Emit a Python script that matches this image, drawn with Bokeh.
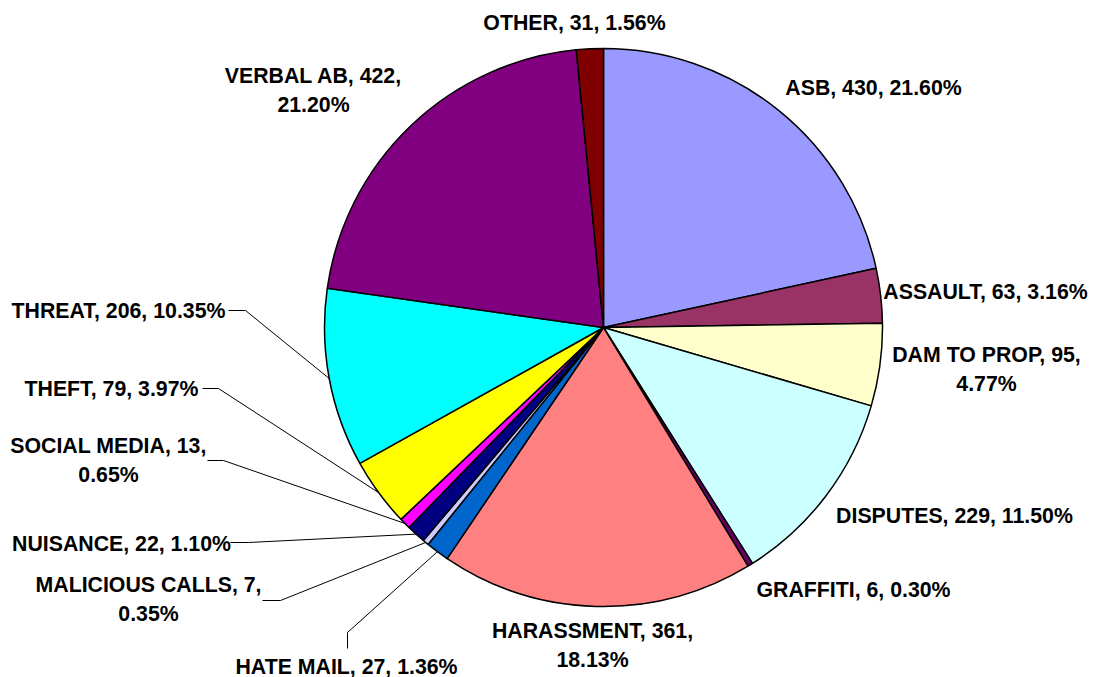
import numpy as np
from bokeh.plotting import figure
from bokeh.models import Range1d, ColumnDataSource
from bokeh.core.properties import value
from bokeh.embed import file_html
from bokeh.resources import INLINE

# ---- data ----
categories = ["ASB", "ASSAULT", "DAM TO PROP", "DISPUTES", "GRAFFITI", "HARASSMENT",
              "HATE MAIL", "MALICIOUS CALLS", "NUISANCE", "SOCIAL MEDIA", "THEFT",
              "THREAT", "VERBAL AB", "OTHER"]
counts = [430, 63, 95, 229, 6, 361, 27, 7, 22, 13, 79, 206, 422, 31]
colors = ["#9999FF", "#993366", "#FFFFCC", "#CCFFFF", "#660066", "#FF8080",
          "#0066CC", "#CCCCFF", "#000080", "#FF00FF", "#FFFF00", "#00FFFF",
          "#800080", "#800000"]

# ---- layout (screen px) ----
CX, CY, R = 603, 327, 279
label_xy = [(873, 87), (985, 291), (986, 369), (954, 515), (853, 589), (592, 645),
            (346, 666), (148, 599), (121, 543), (108, 460), (111, 388), (118, 310),
            (313, 90), (574, 22)]
label_break = [False, False, True, False, False, True, False, True, False, True,
               False, False, True, False]
# leader lines: slice index -> (label-side start, elbow)
leaders = {6: ((347, 648), (347, 632)),
           7: ((262, 600), (280, 600)),
           8: ((230, 542), (248, 542)),
           9: ((207, 460), (223, 460)),
           10: ((202, 388), (218, 388)),
           11: ((228, 310), (245, 310))}

W, H = 1098, 677
p = figure(width=W, height=H, output_backend="svg", toolbar_location=None,
           x_range=Range1d(0, W), y_range=Range1d(-H, 0),
           min_border=0)
p.axis.visible = False
p.grid.visible = False
p.outline_line_color = None
p.background_fill_color = "white"

counts_arr = np.array(counts, dtype=float)
total = counts_arr.sum()
frac = counts_arr / total
cum_end = np.cumsum(frac)
cum_start = cum_end - frac
start_ang = np.pi / 2 - 2 * np.pi * cum_start
end_ang = np.pi / 2 - 2 * np.pi * cum_end

src = ColumnDataSource(dict(start=start_ang, end=end_ang, color=colors))
p.wedge(x=CX, y=-CY, radius=R, start_angle="start", end_angle="end",
        direction="clock", fill_color="color", line_color="black", line_width=1.5,
        source=src)

# labels
texts, lx, ly = [], [], []
for i, (c, n) in enumerate(zip(categories, counts)):
    pct = f"{100 * n / total:.2f}%"
    sep = "\n" if label_break[i] else " "
    texts.append(f"{c}, {n},{sep}{pct}")
    lx.append(label_xy[i][0])
    ly.append(-label_xy[i][1])

p.text(x=lx, y=ly, text=texts, text_align="center", text_baseline="middle",
       text_font=value("Liberation Sans"), text_font_style="bold",
       text_font_size="21.3px", text_color="black", text_line_height=1.2)

# leader lines
mid = (cum_start + cum_end) / 2
for i, (s, e) in leaders.items():
    th = 2 * np.pi * mid[i]
    ax = CX + R * np.sin(th)
    ay = CY - R * np.cos(th)
    p.line(x=[s[0], e[0], ax], y=[-s[1], -e[1], -ay], line_color="black", line_width=1)

open("out.html", "w").write(file_html(p, INLINE))
